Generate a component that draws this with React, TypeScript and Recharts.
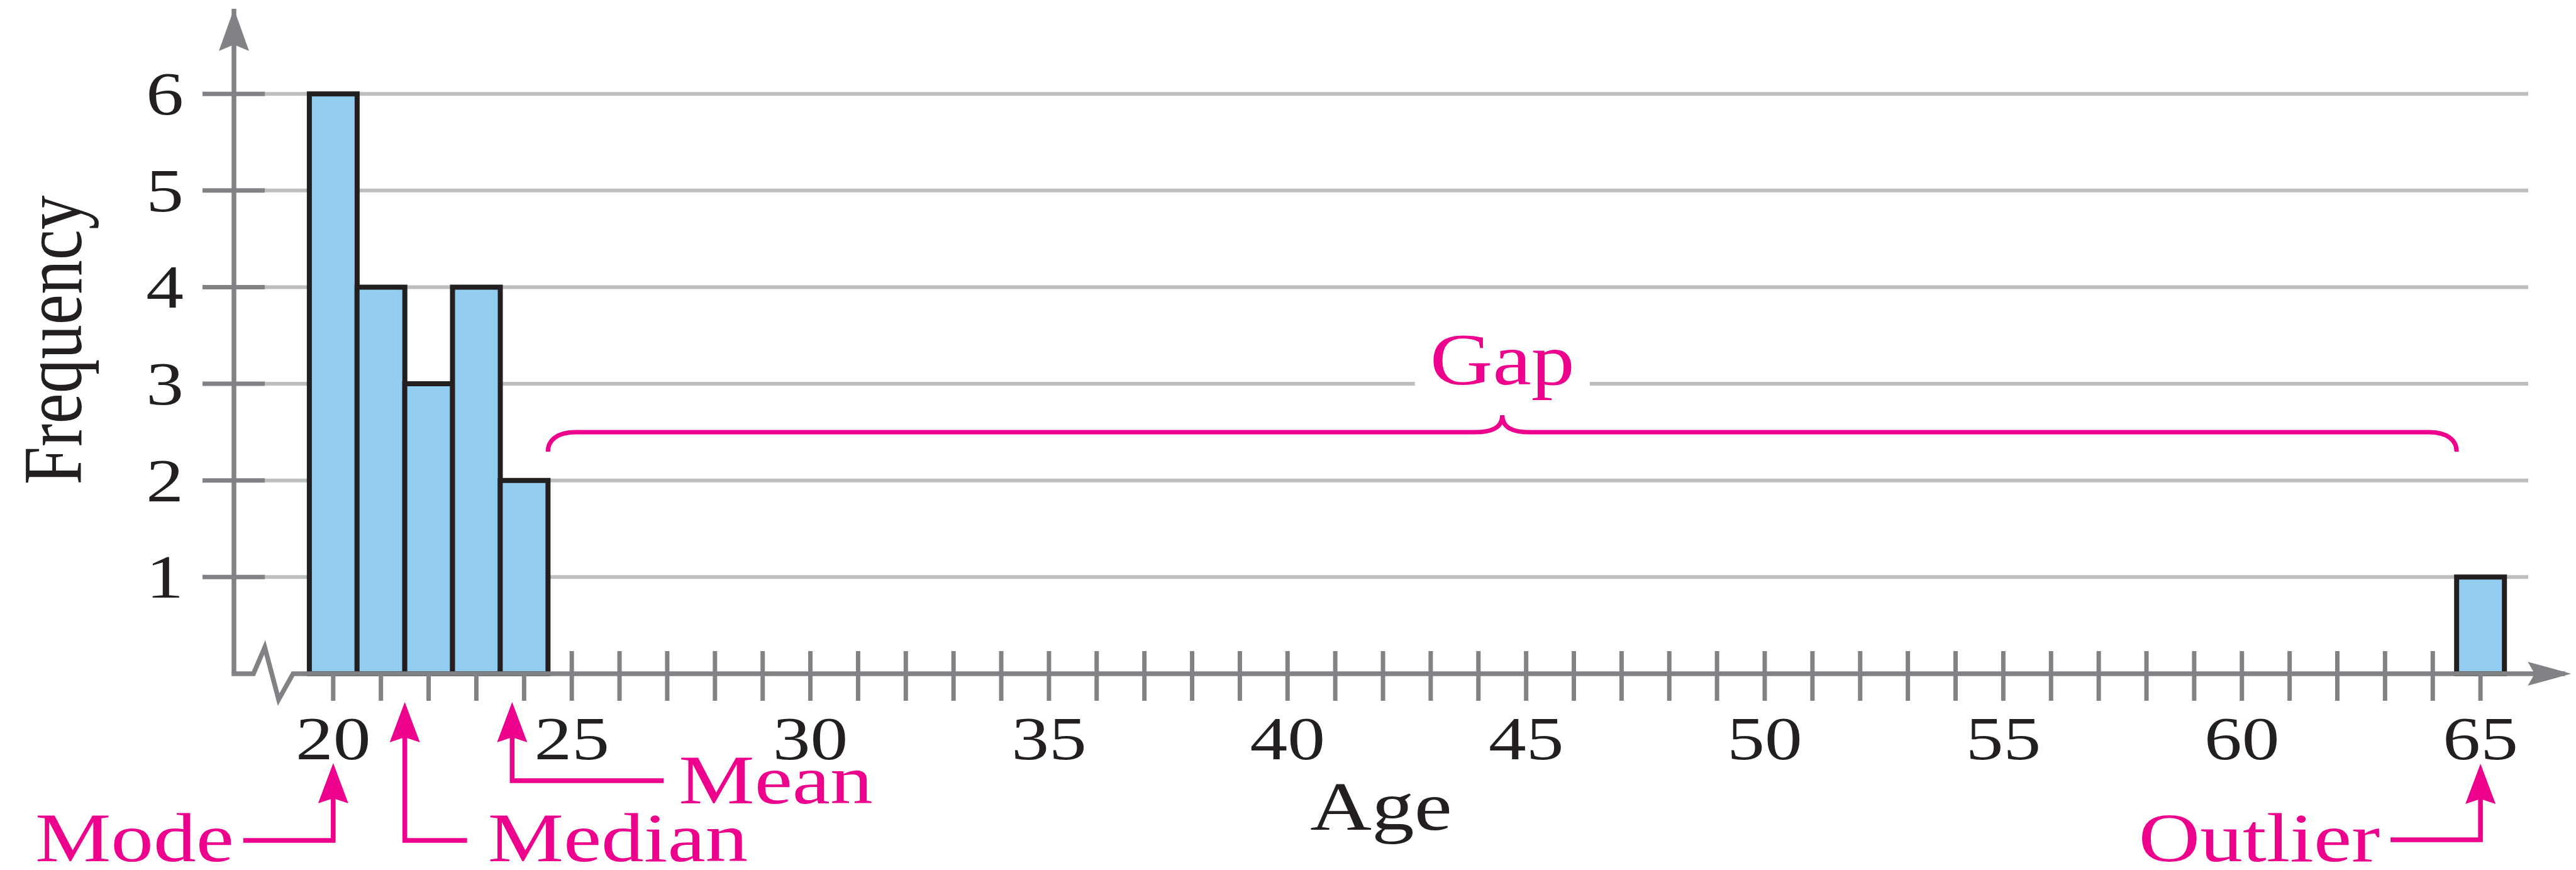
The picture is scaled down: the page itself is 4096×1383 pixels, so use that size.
import React from "react";
import {
  BarChart,
  Bar,
  XAxis,
  YAxis,
  CartesianGrid,
  ReferenceLine,
  ReferenceDot,
  Label,
} from "recharts";

// histogram data
const ages = [20, 21, 22, 23, 24, 65];
const frequencies = [6, 4, 3, 4, 2, 1];

// axes
const xTicks = Array.from({ length: 46 }, (_, i) => 20 + i);
const xTickLabels = [20, 25, 30, 35, 40, 45, 50, 55, 60, 65];
const yTicks = [1, 2, 3, 4, 5, 6];

// annotations
const markerNames = ["Mode", "Median", "Mean", "Outlier"];
const markerAges = [20, 21.5, 23.75, 65];
const gapText = "Gap";
const gapFrom = 24.5;
const gapTo = 64.5;
const gapBraceLevel = 2.5;
const gapTextLevel = 3;

const X_MIN = 17.92;
const X_MAX = 66;
const X_ARROW = 66.9;
const Y_MAX = 6.88;

const INK = "#231F20";
const PINK = "#EC008C";
const AXIS = "#808285";
const GRID = "#BCBEC0";
const BAR = "#92CDF0";
const FONT = "'Liberation Serif', 'Times New Roman', serif";
const STRETCH = 1.22;

const rows = ages.map((age, i) => ({ age, count: frequencies[i] }));

function SText({ x, y, size, anchor = "middle", fill = INK, sx = STRETCH, children }: any) {
  return (
    <text
      transform={`translate(${x},${y}) scale(${sx},1)`}
      textAnchor={anchor}
      fontSize={size}
      fontFamily={FONT}
      fill={fill}
    >
      {children}
    </text>
  );
}

const XTick = (props: any) => {
  const { x, y, payload } = props;
  const v = payload.value;
  const i = ages.indexOf(v);
  const hasBar = i >= 0 && frequencies[i] > 0;
  return (
    <g>
      <line x1={x} x2={x} y1={hasBar ? y : y - 36} y2={y + 43} stroke={AXIS} strokeWidth={7} />
      {xTickLabels.includes(v) && (
        <SText x={x} y={y + 136} size={98}>
          {v}
        </SText>
      )}
    </g>
  );
};

const YTick = (props: any) => {
  const { x, y, payload } = props;
  return (
    <g>
      <line x1={x - 50} x2={x + 49} y1={y} y2={y} stroke={AXIS} strokeWidth={7} />
      <SText x={x - 80} y={y + 33} size={98} anchor="end">
        {payload.value}
      </SText>
    </g>
  );
};

const XAxisShape = (props: any) => {
  const { x1, x2, y1 } = props;
  const y = y1;
  return (
    <g>
      <path
        d={`M${x1 - 3.75},${y} L${x1 + 31},${y} L${x1 + 49},${y - 42} L${x1 + 71},${y + 41} L${x1 + 94},${y} L${x2 - 10},${y}`}
        fill="none"
        stroke={AXIS}
        strokeWidth={7.5}
        strokeLinejoin="miter"
      />
      <path d={`M${x2},${y} L${x2 - 69},${y - 19} L${x2 - 58},${y} L${x2 - 69},${y + 19} Z`} fill={AXIS} />
    </g>
  );
};

const YArrow = (props: any) => {
  const { cx, cy } = props;
  return <path d={`M${cx},${cy} L${cx + 24},${cy + 67} L${cx},${cy + 57} L${cx - 24},${cy + 67} Z`} fill={AXIS} />;
};

const BraceShape = (props: any) => {
  const { x1, x2, y1 } = props;
  const y = y1;
  const mid = (x1 + x2) / 2;
  const r = 44;
  const drop = 31;
  const rise = 27;
  const d =
    `M${x1},${y + drop} C${x1},${y + 12} ${x1 + 16},${y} ${x1 + r},${y} ` +
    `L${mid - r},${y} C${mid - r + 26},${y} ${mid},${y - 6} ${mid},${y - rise} ` +
    `C${mid},${y - 6} ${mid + r - 26},${y} ${mid + r},${y} ` +
    `L${x2 - r},${y} C${x2 - 16},${y} ${x2},${y + 12} ${x2},${y + drop}`;
  return <path d={d} fill="none" stroke={PINK} strokeWidth={7} />;
};

const GapLabel = (props: any) => {
  const { cx, cy } = props;
  return (
    <g>
      <rect x={cx - 139} y={cy - 8} width={278} height={16} fill="#fff" />
      <SText x={cx} y={cy + 1} size={117} fill={PINK} sx={1.18}>
        {gapText}
      </SText>
    </g>
  );
};

const markerLayout: Record<string, any> = {
  Mode: { tip: 142, bottom: 265, hx: -143, tx: -158, ty: 298, anchor: "end" },
  Median: { tip: 45, bottom: 265, hx: 99, tx: 132, ty: 298, anchor: "start" },
  Mean: { tip: 45, bottom: 170, hx: 241, tx: 265, ty: 206, anchor: "start" },
  Outlier: { tip: 143, bottom: 264, hx: -143, tx: -160, ty: 298, anchor: "end" },
};

const markerShape = (name: string) => (props: any) => {
  const { cx, cy } = props;
  const m = markerLayout[name];
  const t = cy + m.tip;
  return (
    <g>
      <path
        d={`M${cx},${t + 50} L${cx},${cy + m.bottom} L${cx + m.hx},${cy + m.bottom}`}
        fill="none"
        stroke={PINK}
        strokeWidth={7.5}
        strokeLinejoin="miter"
      />
      <path d={`M${cx},${t} L${cx + 24},${t + 64} L${cx},${t + 56} L${cx - 24},${t + 64} Z`} fill={PINK} />
      <SText x={cx + m.tx} y={cy + m.ty} size={111} anchor={m.anchor} fill={PINK}>
        {name}
      </SText>
    </g>
  );
};

export default function App() {
  return (
    <div style={{ position: "fixed", left: 0, top: 0, width: 4096, height: 1383, background: "#fff" }}>
      <BarChart
        width={4096}
        height={1383}
        data={rows}
        margin={{ top: 14, right: 76, bottom: 0, left: 0 }}
        barCategoryGap={0}
        barGap={0}
      >
        <CartesianGrid horizontal vertical={false} stroke={GRID} strokeWidth={6} syncWithTicks />
        <XAxis
          type="number"
          dataKey="age"
          domain={[X_MIN, X_MAX]}
          ticks={xTicks}
          interval={0}
          tickSize={0}
          tickMargin={0}
          tickLine={false}
          axisLine={false}
          tick={XTick}
          height={312}
        >
          <Label
            content={(p: any) => {
              const vb = p.viewBox;
              return (
                <SText x={vb.x + vb.width / 2} y={vb.y + 248} size={111}>
                  Age
                </SText>
              );
            }}
          />
        </XAxis>
        <YAxis
          type="number"
          domain={[0, Y_MAX]}
          ticks={yTicks}
          interval={0}
          tickSize={0}
          tickMargin={0}
          tickLine={false}
          axisLine={{ stroke: AXIS, strokeWidth: 7.5 }}
          tick={YTick}
          width={372}
        >
          <Label
            content={(p: any) => {
              const vb = p.viewBox;
              const cx = vb.x + 129;
              const cy = vb.y + vb.height / 2 - 2;
              return (
                <text
                  transform={`translate(${cx},${cy}) scale(${STRETCH},1) rotate(-90)`}
                  textAnchor="middle"
                  fontSize={109}
                  fontFamily={FONT}
                  fill={INK}
                >
                  Frequency
                </text>
              );
            }}
          />
        </YAxis>
        <Bar dataKey="count" fill={BAR} stroke={INK} strokeWidth={8} isAnimationActive={false} />
        <ReferenceLine
          segment={[
            { x: X_MIN, y: 0 },
            { x: X_ARROW, y: 0 },
          ]}
          ifOverflow="visible"
          shape={XAxisShape}
        />
        <ReferenceDot x={X_MIN} y={Y_MAX} ifOverflow="visible" shape={YArrow} />
        <ReferenceLine
          segment={[
            { x: gapFrom, y: gapBraceLevel },
            { x: gapTo, y: gapBraceLevel },
          ]}
          ifOverflow="visible"
          shape={BraceShape}
        />
        <ReferenceDot x={(gapFrom + gapTo) / 2} y={gapTextLevel} ifOverflow="visible" shape={GapLabel} />
        {markerNames.map((name, i) => (
          <ReferenceDot key={name} x={markerAges[i]} y={0} ifOverflow="visible" shape={markerShape(name)} />
        ))}
      </BarChart>
    </div>
  );
}
